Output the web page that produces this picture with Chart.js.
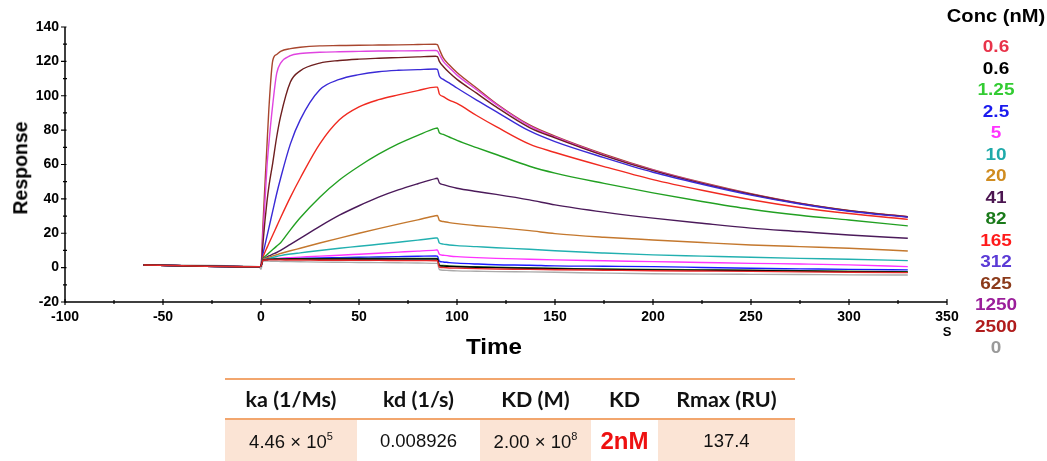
<!DOCTYPE html>
<html>
<head>
<meta charset="utf-8">
<script src="https://cdn.jsdelivr.net/npm/chart.js@4.4.0/dist/chart.umd.min.js"></script>
<style>
  body { margin: 0; background: #fff; font-family: "Liberation Sans", Arial, sans-serif; }
  #page { position: relative; width: 1047px; height: 461px; overflow: hidden; }
  #myChart { position: absolute; left: 0; top: 0; }
  .lbl { position: absolute; font-weight: bold; color: #000; white-space: nowrap; line-height: 1; }
  #yTitle { left: 21px; top: 168px; font-size: 19.5px; transform: translate(-50%, -50%) rotate(-90deg); }
  #xTitle { left: 494px; top: 347px; font-size: 22px; transform: translate(-50%, -50%) scaleX(1.1); }
  #unit { left: 947px; top: 331px; font-size: 13px; transform: translate(-50%, -50%); }
  #legend { position: absolute; left: 946px; top: 0; width: 100px; }
  #legend div { position: absolute; left: 50px; font-weight: bold; white-space: nowrap; line-height: 1; transform: translate(-50%, -50%) scaleX(1.15); }
  #kin { position: absolute; left: 225px; top: 378px; width: 570px; border-collapse: collapse; table-layout: fixed; }
  #kin th { font-family: "Lato", "Open Sans", sans-serif; font-weight: bold; font-size: 21.5px; height: 38px; padding: 0;
            border-top: 2px solid #f2a66e; border-bottom: 2px solid #f2a66e; text-align: center; color: #111; }
  #kin td { font-size: 18.5px; height: 42px; padding: 0; text-align: center; color: #111; vertical-align: middle; }
  #kin td.sh { background: #fbe4d5; }
  #kin td.red { color: #ee1111; font-weight: bold; font-size: 24px; }
  #kin sup { font-size: 11px; vertical-align: 8px; }
</style>
</head>
<body>
<div id="page">
  <canvas id="myChart" width="1047" height="461"></canvas>
  <div class="lbl" id="yTitle">Response</div>
  <div class="lbl" id="xTitle">Time</div>
  <div class="lbl" id="unit">S</div>
  <div id="legend"></div>
  <table id="kin">
    <colgroup>
      <col style="width:132px"><col style="width:123px"><col style="width:111px"><col style="width:67px"><col style="width:137px">
    </colgroup>
    <tr><th>ka (1/Ms)</th><th>kd (1/s)</th><th>KD (M)</th><th>KD</th><th>Rmax (RU)</th></tr>
    <tr>
      <td class="sh">4.46 × 10<sup>5</sup></td>
      <td>0.008926</td>
      <td class="sh">2.00 × 10<sup>8</sup></td>
      <td class="red">2nM</td>
      <td class="sh">137.4</td>
    </tr>
  </table>
</div>
<script>
// time points (s) shared by all curves
var times = [-60, -1, 0, 1, 2, 3, 4, 6, 8, 10, 15, 20, 30, 40, 50, 60, 70, 80, 89,
             90, 91, 93, 96, 100, 110, 120, 137, 150, 175, 200, 225, 250, 275, 300, 330];

// response (RU) per concentration
var r0_6a = [1.5, 0.5, 1, 4.3, 4.4, 4.4, 4.5, 4.5, 4.5, 4.5, 4.4, 4.4, 4.3, 4.3, 4.2, 4.2, 4.1, 4.1, 4,
             4, 0.3, 0, -0.2, -0.3, -0.6, -0.8, -1, -1.2, -1.5, -1.8, -2, -2.2, -2.5, -2.7, -2.9];
var r0_6b = [1.5, 0.5, 1, 4.4, 4.6, 4.7, 4.8, 4.8, 4.9, 4.9, 5, 5, 5, 5, 5, 5, 5, 5, 5,
             5, 1.2, 0.9, 0.7, 0.5, 0.2, 0, -0.4, -0.6, -1, -1.3, -1.5, -1.7, -2, -2.3, -2.6];
var r1_25 = [1.5, 0.5, 1, 4.5, 4.7, 4.8, 4.9, 5, 5, 5.1, 5.1, 5.2, 5.2, 5.3, 5.3, 5.3, 5.4, 5.4, 5.4,
             5.3, 1.5, 1.2, 1, 0.8, 0.5, 0.2, -0.2, -0.4, -0.8, -1.1, -1.3, -1.5, -1.8, -2.1, -2.4];
var r2_5 = [1.5, 0.5, 1, 4.4, 4.6, 4.7, 4.8, 4.9, 5, 5.1, 5.2, 5.3, 5.6, 5.8, 6, 6.2, 6.4, 6.6, 6.8,
            6.7, 3.8, 3.3, 2.9, 2.6, 2.1, 1.7, 1.4, 1, 0.8, 0.6, 0.1, -0.4, -0.7, -1, -1.3];
var r5 = [1.5, 0.5, 1, 4.5, 4.7, 4.8, 4.9, 5.1, 5.3, 5.5, 5.8, 6.1, 6.7, 7.2, 7.8, 8.4, 9, 9.6, 10.2,
          10.3, 7.8, 7.2, 6.8, 6.4, 5.8, 5.4, 4.9, 4.5, 4, 3.5, 3, 2.5, 2.1, 1.6, 0.6];
var r10 = [1.5, 0.5, 1, 4.5, 4.8, 5.1, 5.4, 5.9, 6.5, 7, 7.9, 8.6, 10, 11.3, 12.4, 13.6, 14.8, 16, 17.2,
           17.3, 14.3, 13.7, 13.2, 12.8, 12.2, 11.6, 10.7, 9.8, 8.5, 7.4, 6.7, 6, 5.4, 4.9, 4.1];
var r20 = [1.5, 0.5, 1, 4.8, 5.3, 5.7, 6.1, 6.8, 7.5, 8.2, 9.8, 11.3, 14.3, 17.2, 20, 22.7, 25.3, 27.8, 30.2,
           30.3, 27.5, 26.8, 26.2, 25.6, 24.4, 23.4, 21.5, 19.8, 17.7, 16.1, 14.6, 13.2, 12.2, 11.3, 9.7];
var r41 = [1.5, 0.5, 1, 5, 5.6, 6.2, 6.8, 7.8, 8.8, 10, 13.5, 17, 24, 30.5, 36, 41, 45.2, 48.8, 51.8,
           52, 49.3, 48.3, 47.3, 46.2, 44.3, 42.6, 39.4, 36.5, 32.3, 28.8, 25.8, 23, 21, 19, 17.1];
var r82 = [1.5, 0.5, 1, 5.5, 6.5, 7.5, 8.5, 10.5, 12.5, 14.5, 22, 29, 41, 51, 59, 66, 72, 77, 81,
           81.2, 78.5, 77.5, 76, 74, 69.8, 65.8, 59, 55, 49, 43.5, 38.5, 34, 30.5, 27.7, 24.3];
var r165 = [1.5, 0.5, 1, 6, 9, 11.5, 14, 19, 24, 29, 41, 52, 72, 86, 93.5, 97.7, 100.5, 103, 105,
            105, 101, 99.5, 97.5, 95.5, 88.5, 82, 71.8, 67, 58.8, 51.2, 45, 39.5, 35, 31.5, 28.1];
var r312 = [1.5, 0.5, 1, 8, 13, 18, 23, 33, 43, 52, 72, 86, 103.5, 109.5, 112.3, 114, 114.8, 115.2, 115.6,
            115.4, 111.5, 109.5, 107.5, 104.5, 97.5, 90.8, 79.5, 73.3, 64, 55.5, 48.5, 42.2, 37, 32.8, 29.3];
var r625 = [1.5, 0.5, 1, 14, 27, 38, 47, 61, 76, 88, 108, 114.5, 119, 120.5, 121.3, 121.8, 122.2, 122.6, 123,
            122.8, 120, 117, 113.5, 109.5, 101.5, 93.5, 81.5, 75.5, 65.2, 56.4, 49, 42.7, 37.3, 33.1, 29.6];
var r1250 = [1.5, 0.5, 1, 20, 38, 58, 72, 95, 113, 119, 123.3, 124.6, 125.3, 125.6, 125.8, 126, 126.1, 126.2, 126.3,
             126, 124, 120, 116.5, 112, 103.5, 95, 82.5, 76, 65.5, 56.7, 49.2, 42.8, 37.4, 33, 29.5];
var r2500 = [1.5, 0.5, 1, 25, 48, 70, 92, 120.5, 124, 125.8, 127.4, 128.2, 129, 129.2, 129.4, 129.5, 129.6, 129.8, 130,
             129.8, 127, 122, 118, 113.5, 104.5, 95.5, 83, 76.5, 66, 57, 49.5, 43, 37.5, 33.2, 29.7];
var r0 = [1.5, 0.5, -1, 3.8, 3.8, 3.8, 3.8, 3.7, 3.7, 3.6, 3.5, 3.4, 3.2, 3.1, 3, 2.9, 2.8, 2.7, 2.5,
          2.5, -1.2, -1.5, -1.7, -1.9, -2.1, -2.3, -2.5, -2.7, -3.2, -3.6, -3.8, -3.9, -4, -4.2, -4.3];

var concLabels = ['0.6', '0.6', '1.25', '2.5', '5', '10', '20', '41', '82', '165', '312', '625', '1250', '2500', '0'];
var concSeries = [r0_6a, r0_6b, r1_25, r2_5, r5, r10, r20, r41, r82, r165, r312, r625, r1250, r2500, r0];
var lineColors = ['#e52a2a', '#000000', '#2e8b2e', '#1a1aff', '#ff33ff', '#22b0b0', '#c4782e', '#4b1a5a',
                  '#22a022', '#f02a20', '#3a2ad6', '#6e1f1f', '#e044e0', '#a8462e', '#aaaaaa'];
var legendColors = ['#e8334a', '#000000', '#33cc33', '#1a1aee', '#ff33ff', '#1faaaa', '#d08c20', '#4b1550',
                    '#1a7a1a', '#ff1a1a', '#5b3bd6', '#8b3a1a', '#9b1f9b', '#b01c1c', '#999999'];

var xTickStep = 25, xLabelStep = 50;
var yTickStep = 10, yLabelStep = 20;

var tickMarks = {
  id: 'tickMarks',
  afterDraw: function(chart) {
    var ctx = chart.ctx, area = chart.chartArea;
    var x = chart.scales.x, y = chart.scales.y;
    ctx.save();
    ctx.strokeStyle = '#000';
    ctx.lineWidth = 1.5;
    ctx.beginPath();
    ctx.moveTo(area.left, area.top);
    ctx.lineTo(area.left, area.bottom);
    ctx.lineTo(area.right, area.bottom);
    ctx.stroke();
    ctx.lineWidth = 1.2;
    ctx.beginPath();
    x.ticks.forEach(function(t) {
      var px = x.getPixelForValue(t.value);
      var h = t.value % xLabelStep === 0 ? 3 : 2;
      ctx.moveTo(px, area.bottom - h);
      ctx.lineTo(px, area.bottom + h);
    });
    y.ticks.forEach(function(t) {
      var py = y.getPixelForValue(t.value);
      var major = t.value % yLabelStep === 0;
      ctx.moveTo(area.left - (major ? 4 : 2), py);
      ctx.lineTo(area.left + (major ? 1.5 : 2), py);
    });
    ctx.stroke();
    ctx.restore();
  }
};

function chart1() {
  var ctx = document.getElementById('myChart');
  var datasets = concSeries.map(function(vals, i) {
    return {
      label: concLabels[i],
      data: vals.map(function(v, j) { return { x: times[j], y: v }; }),
      borderColor: lineColors[i],
      borderWidth: 1.4,
      pointRadius: 0,
      fill: false,
      cubicInterpolationMode: 'monotone'
    };
  });

  new Chart(ctx, {
    type: 'line',
    data: { datasets: datasets },
    options: {
      responsive: false,
      animation: false,
      devicePixelRatio: 1,
      layout: { padding: { left: 0, top: 27, right: 100, bottom: 129 } },
      plugins: { legend: { display: false }, tooltip: { enabled: false } },
      scales: {
        x: {
          type: 'linear',
          min: -100, max: 350,
          grid: { display: false, drawTicks: false },
          border: { display: false },
          afterFit: function(s) { s.height = 30; },
          ticks: {
            stepSize: xTickStep,
            autoSkip: false,
            maxRotation: 0,
            padding: 7,
            color: '#000',
            font: { family: 'Liberation Sans', weight: 'bold', size: 14 },
            callback: function(v) { return v % xLabelStep === 0 ? v : ''; }
          }
        },
        y: {
          min: -20, max: 140,
          grid: { display: false, drawTicks: false },
          border: { display: false },
          afterFit: function(s) { s.width = 65; },
          ticks: {
            stepSize: yTickStep,
            autoSkip: false,
            padding: 6,
            color: '#000',
            font: { family: 'Liberation Sans', weight: 'bold', size: 14 },
            callback: function(v) { return v % yLabelStep === 0 ? v : ''; }
          }
        }
      }
    },
    plugins: [tickMarks]
  });
}

function legend1() {
  var box = document.getElementById('legend');
  var head = document.createElement('div');
  head.textContent = 'Conc (nM)';
  head.style.top = '17px';
  head.style.fontSize = '17.5px';
  head.style.color = '#000';
  box.appendChild(head);
  concLabels.forEach(function(lab, i) {
    var d = document.createElement('div');
    d.textContent = lab;
    d.style.top = (46 + i * 21.5) + 'px';
    d.style.fontSize = '16.5px';
    d.style.color = legendColors[i];
    box.appendChild(d);
  });
}

window.onload = function() {
  chart1();
  legend1();
};
</script>
</body>
</html>
